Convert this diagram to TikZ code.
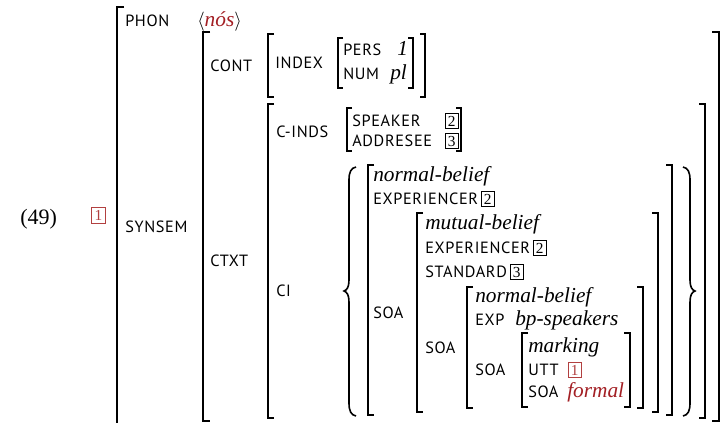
\documentclass[tikz,border=0pt]{standalone}
\usepackage{fontspec}
\setmainfont{Liberation Serif}
\newfontfamily\labfont[LetterSpace=4]{PT Sans}
\definecolor{avmred}{RGB}{163,31,36}
\definecolor{boxred}{RGB}{178,64,64}
\newcommand\avmL[4]{\draw[brk] (#1+#4,#2) -- (#1,#2) -- (#1,#3) -- (#1+#4,#3);}
\newcommand\avmR[4]{\draw[brk] (#1-#4,#2) -- (#1,#2) -- (#1,#3) -- (#1-#4,#3);}
\begin{document}
\begin{tikzpicture}[x=0.75pt,y=-0.75pt,
  lab/.style={anchor=base west,inner sep=0,font=\labfont\fontsize{12.2}{14}\selectfont},
  val/.style={anchor=base west,inner sep=0,font=\itshape\fontsize{16}{18}\selectfont},
  nbox/.style={draw,line width=0.6pt,inner sep=0,minimum width=9.5pt,minimum height=11pt,anchor=base west,font=\fontsize{11.5}{12}\selectfont},
  brk/.style={line width=1pt,line join=miter},
  brace/.style={line width=1.2pt}]
\fill[white] (0,0) rectangle (727,422);
\useasboundingbox (0,0) rectangle (727,422);
% example number and tag
\node[anchor=base west,inner sep=0,font=\fontsize{16.5}{18}\selectfont] (exnum) at (20,224) {(49)};
\node[nbox,draw=boxred,text=boxred,minimum width=10pt,minimum height=11.5pt,anchor=center] (tag) at (98.5,215.5) {1};
% brackets
\draw[brk] (124,7) -- (117,7) -- (117,430);
\avmL{203}{32}{421}{7} \avmR{719}{32}{421}{7}
\avmL{268}{34}{97}{6} \avmR{425}{34}{97}{5}
\avmL{338}{38}{88}{5} \avmR{413}{38}{88}{5}
\avmL{268}{104}{418}{6} \avmR{705}{104}{418}{6}
\avmL{347}{108}{151}{5} \avmR{461}{108}{151}{5}
\avmL{368}{165}{415}{6} \avmR{672}{165}{415}{6}
\avmL{417}{213}{412}{6} \avmR{658}{213}{412}{6}
\avmL{467}{287}{408}{6} \avmR{643}{287}{408}{6}
\avmL{522}{333}{407}{6} \avmR{630}{333}{407}{6}
% braces
\draw[brace] (356,167) .. controls (351,168) and (349,172) .. (349,180) -- (349,280) .. controls (349,287) and (347,290) .. (344,291) .. controls (347,292) and (349,295) .. (349,302) -- (349,403) .. controls (349,411) and (351,415) .. (356,416);
\draw[brace] (683,167) .. controls (688,168) and (690,172) .. (690,180) -- (690,280) .. controls (690,287) and (692,290) .. (695,291) .. controls (692,292) and (690,295) .. (690,302) -- (690,403) .. controls (690,411) and (688,415) .. (683,416);
% PHON
\node[lab] (phon) at (125,26) {PHON};
\node[anchor=base west,inner sep=0,font=\fontsize{14}{16}\selectfont] (nos) at (197,26) {$\langle$\textit{\color{avmred}\fontsize{16}{18}\selectfont nós}$\rangle$};
% SYNSEM
\node[lab] (synsem) at (125,232) {SYNSEM};
\node[lab] (cont) at (210,71) {CONT};
\node[lab] (index) at (275,68) {INDEX};
\node[lab] (pers) at (343,55) {PERS};
\node[val] (persv) at (397,55) {1};
\node[lab] (num) at (343,79) {NUM};
\node[val] (numv) at (390,79) {pl};
\node[lab] (ctxt) at (210,266) {CTXT};
\node[lab] (cinds) at (276,137) {C-INDS};
\node[lab] (speaker) at (352,126) {SPEAKER};
\node[nbox] (spk2) at (445,126) {2};
\node[lab] (addr) at (352,146) {ADDRESEE};
\node[nbox] (adr3) at (445,146) {3};
\node[lab] (ci) at (276,296) {CI};
% CI value
\node[val] (nb1) at (373,181) {normal-belief};
\node[lab] (exp1) at (373,204) {EXPERIENCER};
\node[nbox] (exp1b) at ([xshift=2pt]exp1.base east) {2};
\node[lab] (soa1) at (373,318) {SOA};
\node[val] (mb) at (425,229) {mutual-belief};
\node[lab] (exp2) at (425,253) {EXPERIENCER};
\node[nbox] (exp2b) at ([xshift=2pt]exp2.base east) {2};
\node[lab] (std) at (425,277) {STANDARD};
\node[nbox] (std3) at ([xshift=2pt]std.base east) {3};
\node[lab] (soa2) at (425,353) {SOA};
\node[val] (nb2) at (475,302) {normal-belief};
\node[lab] (exp3) at (475,325) {EXP};
\node[val] (bps) at (515,325) {bp-speakers};
\node[lab] (soa3) at (475,375) {SOA};
\node[val] (mk) at (528,352) {marking};
\node[lab] (utt) at (528,375) {UTT};
\node[nbox,draw=boxred,text=boxred] (utt1) at (568,375) {1};
\node[lab] (soa4) at (528,397) {SOA};
\node[val,text=avmred] (formal) at (567,397) {formal};
\end{tikzpicture}
\end{document}
